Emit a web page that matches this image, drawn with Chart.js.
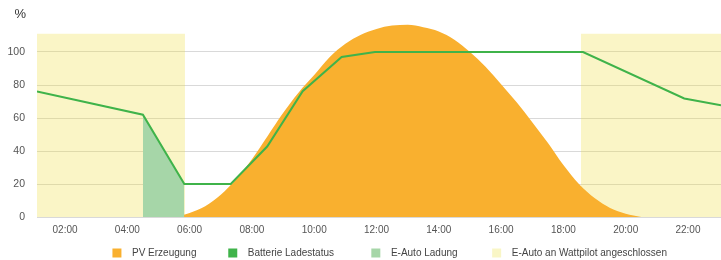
<!DOCTYPE html>
<html>
<head>
<meta charset="utf-8">
<script src="https://cdn.jsdelivr.net/npm/chart.js@4.4.1/dist/chart.umd.min.js"></script>
<style>
  html, body { margin: 0; padding: 0; background: #fff; }
  #chart { display: block; }
</style>
</head>
<body>
<canvas id="chart" width="721" height="260"></canvas>
<script>
// hours of day shown on the x axis
var xMin = 1.1;
var xMax = 23.06;
var tickHours = [2, 4, 6, 8, 10, 12, 14, 16, 18, 20, 22];
var tickLabels = ['02:00', '04:00', '06:00', '08:00', '10:00', '12:00', '14:00', '16:00', '18:00', '20:00', '22:00'];
var yMax = 120;
var yTickMax = 100;

var seriesNames = ['PV Erzeugung', 'Batterie Ladestatus', 'E-Auto Ladung', 'E-Auto an Wattpilot angeschlossen'];

// PV Erzeugung (%)
var pvHours = [5.5, 6, 6.5, 7, 7.5, 8, 8.5, 9, 9.5, 10, 10.5, 11, 11.5, 12, 12.5, 13, 13.5, 14, 14.5, 15, 15.5, 16, 16.5, 17, 17.5, 18, 18.5, 19, 19.5, 20, 20.5];
var pvValues = [0, 2.5, 6.5, 13.5, 23, 35, 49, 63, 75.5, 86, 97, 105, 110.5, 114, 116, 116.5, 115, 112.5, 107.5, 100, 91, 80.5, 69.5, 57.5, 45, 31.5, 20, 11.5, 5.5, 2, 0];

// Batterie Ladestatus (%)
var batteryHours = [1.1, 4.5, 5.83, 7.32, 8.49, 9.63, 10.88, 11.95, 18.63, 21.88, 23.06];
var batteryValues = [76, 62, 20, 20, 42.7, 76.2, 97, 100, 100, 71.8, 67.7];

// E-Auto Ladung (%)
var chargeHours = [4.5, 5.83];
var chargeValues = [62, 20];

// E-Auto an Wattpilot angeschlossen
var pluggedHours = [1.1, 5.85, 12, 18.56, 23.06];
var pluggedValues = [111, 111, null, 111, 111];

var fontFamily = '"Liberation Sans", Arial, sans-serif';

function toPoints(xs, ys) {
  return xs.map(function (x, i) {
    return { x: x, y: ys[i] };
  });
}

var percentLabel = {
  id: 'percentLabel',
  afterDraw: function (chart) {
    var ctx = chart.ctx;
    ctx.save();
    ctx.font = '13px ' + fontFamily;
    ctx.fillStyle = '#333';
    ctx.textAlign = 'right';
    ctx.textBaseline = 'middle';
    ctx.fillText('%', chart.scales.y.right - 11, 14);
    ctx.restore();
  }
};

// trailing blanks keep the legend spacing of the original
var legendTails = [10, 12, 11, 18];

function legendItems(chart) {
  return chart.data.datasets.map(function (ds, i) {
    return {
      text: '  ' + ds.label + ' '.repeat(legendTails[i]),
      fillStyle: ds.legendColor,
      strokeStyle: ds.legendColor,
      lineWidth: 0,
      fontColor: '#444',
      hidden: false,
      datasetIndex: i
    };
  });
}

function printChart() {
  var ctx = document.getElementById('chart');
  new Chart(ctx, {
    type: 'line',
    data: {
      datasets: [{
        label: seriesNames[0],
        data: toPoints(pvHours, pvValues),
        backgroundColor: '#f9b02f',
        legendColor: '#f9b02f',
        borderWidth: 0,
        pointRadius: 0,
        fill: 'origin',
        cubicInterpolationMode: 'monotone',
        order: 3
      }, {
        label: seriesNames[1],
        data: toPoints(batteryHours, batteryValues),
        borderColor: '#3fb34a',
        legendColor: '#3fb34a',
        borderWidth: 2,
        pointRadius: 0,
        fill: false,
        tension: 0,
        order: 1
      }, {
        label: seriesNames[2],
        data: toPoints(chargeHours, chargeValues),
        backgroundColor: '#a6d6a8',
        legendColor: '#a6d6a8',
        borderWidth: 0,
        pointRadius: 0,
        fill: 'origin',
        order: 2
      }, {
        label: seriesNames[3],
        data: toPoints(pluggedHours, pluggedValues),
        backgroundColor: 'rgba(238, 222, 60, 0.29)',
        legendColor: '#f9f6c6',
        borderWidth: 0,
        pointRadius: 0,
        fill: 'origin',
        spanGaps: false,
        order: 4
      }]
    },
    options: {
      responsive: false,
      animation: false,
      layout: { padding: { top: 19, bottom: -8, left: 0, right: 0 } },
      plugins: {
        tooltip: { enabled: false },
        legend: {
          position: 'bottom',
          align: 'end',
          labels: {
            boxWidth: 9,
            boxHeight: 9,
            padding: 4,
            color: '#444',
            font: { family: fontFamily, size: 10 },
            generateLabels: legendItems
          }
        }
      },
      scales: {
        x: {
          type: 'linear',
          min: xMin,
          max: xMax,
          grid: { display: false, drawTicks: false },
          border: { display: false },
          afterBuildTicks: function (scale) {
            scale.ticks = tickHours.map(function (h) { return { value: h }; });
          },
          afterFit: function (scale) { scale.height = 27; },
          ticks: {
            autoSkip: false,
            maxRotation: 0,
            padding: 7,
            color: '#555',
            font: { family: fontFamily, size: 10 },
            callback: function (value) {
              return tickLabels[tickHours.indexOf(value)];
            }
          }
        },
        y: {
          min: 0,
          max: yMax,
          afterBuildTicks: function (scale) {
            scale.ticks = scale.ticks.filter(function (t) { return t.value <= yTickMax; });
          },
          afterFit: function (scale) { scale.width = 37; },
          grid: { color: '#d9d9d9', drawTicks: false },
          border: { display: false },
          ticks: {
            stepSize: 20,
            padding: 12,
            color: '#555',
            font: { family: fontFamily, size: 10.5 }
          }
        }
      }
    },
    plugins: [percentLabel]
  });
}

printChart();
</script>
</body>
</html>
